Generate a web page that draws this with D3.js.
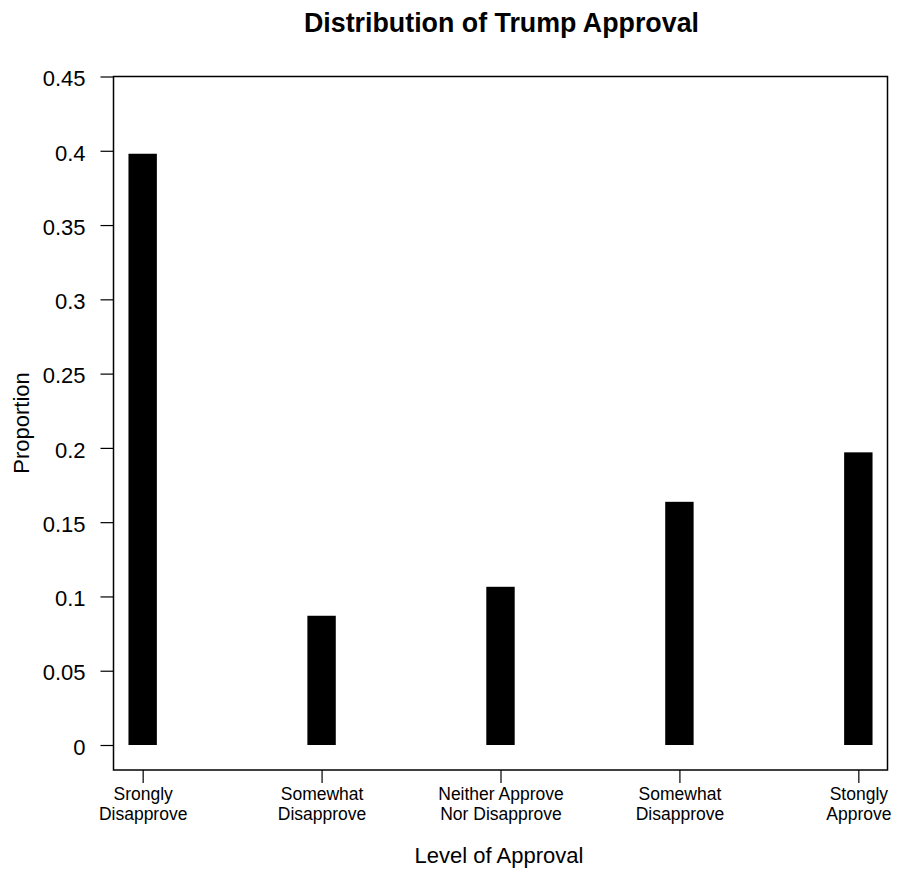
<!DOCTYPE html>
<html>
<head>
<meta charset="utf-8">
<script src="https://cdn.jsdelivr.net/npm/d3@7"></script>
<style>
  body { margin: 0; background: #fff; }
  text { font-family: "Liberation Sans", Arial, sans-serif; fill: #000; }
</style>
</head>
<body>
<svg id="chart" width="897" height="882"></svg>
<script>
// data
const categories = [
  ["Srongly", "Disapprove"],
  ["Somewhat", "Disapprove"],
  ["Neither Approve", "Nor Disapprove"],
  ["Somewhat", "Disapprove"],
  ["Stongly", "Approve"]
]
const proportions = [0.398, 0.087, 0.1065, 0.1637, 0.197]
const yTicks = [0, 0.05, 0.1, 0.15, 0.2, 0.25, 0.3, 0.35, 0.4, 0.45]

const svg = d3.select("#chart")
const box = { left: 113.5, right: 887.5, top: 76.5, bottom: 770 }

// 比例尺
let xScale = d3.scaleLinear()
    .domain([0.837, 5.163])
    .range([box.left, box.right])
let yScale = d3.scaleLinear()
    .domain([0, 0.45])
    .range([745, 76.5])

// 条形
svg.selectAll("rect.bar")
    .data(proportions)
    .enter()
    .append("rect")
    .attr("class", "bar")
    .attr("x", (d, i) => xScale(i + 1) - 14.2)
    .attr("width", 28.4)
    .attr("y", d => yScale(d))
    .attr("height", d => yScale(0) - yScale(d))
    .attr("fill", "#000")

// 边框
svg.append("rect")
    .attr("x", box.left)
    .attr("y", box.top)
    .attr("width", box.right - box.left)
    .attr("height", box.bottom - box.top)
    .attr("fill", "none")
    .attr("stroke", "#000")
    .attr("stroke-width", 1.5)

// y 轴
let yAxis = svg.append("g")
    .attr("transform", "translate(" + box.left + ",0)")
    .call(d3.axisLeft(yScale).tickValues(yTicks).tickSize(13).tickPadding(15)
        .tickFormat(d => d3.format("")(+d.toFixed(2))))
yAxis.select(".domain").remove()
yAxis.selectAll(".tick line").attr("stroke", "#000").attr("stroke-width", 1.2)
yAxis.selectAll(".tick text")
    .attr("dy", "0.42em")
    .style("font-size", "22px")
    .style("font-family", "Liberation Sans, Arial, sans-serif")

// x 轴
let xAxis = svg.append("g")
    .attr("transform", "translate(0," + box.bottom + ")")
    .call(d3.axisBottom(xScale).tickValues([1, 2, 3, 4, 5]).tickSize(13).tickFormat(""))
xAxis.select(".domain").remove()
xAxis.selectAll(".tick line").attr("stroke", "#000").attr("stroke-width", 1.2)
xAxis.selectAll(".tick").each(function (d, i) {
    let t = d3.select(this).append("text")
        .attr("text-anchor", "middle")
        .style("font-size", "17.5px")
        .style("font-family", "Liberation Sans, Arial, sans-serif")
        .attr("fill", "#000")
    categories[i].forEach((line, j) => {
        t.append("tspan").attr("x", 0).attr("y", 29.5 + j * 20).text(line)
    })
})

// 标题
svg.append("text")
    .attr("x", 501.5)
    .attr("y", 32)
    .attr("text-anchor", "middle")
    .style("font-size", "26.8px")
    .style("font-weight", "bold")
    .text("Distribution of Trump Approval")

svg.append("text")
    .attr("x", 499)
    .attr("y", 863)
    .attr("text-anchor", "middle")
    .style("font-size", "22px")
    .text("Level of Approval")

svg.append("text")
    .attr("transform", "translate(28.5,423) rotate(-90)")
    .attr("text-anchor", "middle")
    .style("font-size", "22px")
    .text("Proportion")
</script>
</body>
</html>
